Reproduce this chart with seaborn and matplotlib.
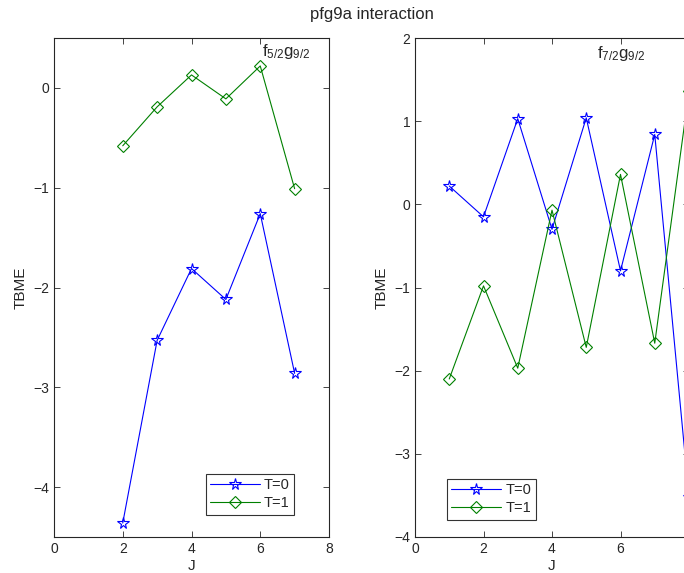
import numpy as np
import pandas as pd
import matplotlib
matplotlib.use("Agg")
import matplotlib.pyplot as plt
import seaborn as sns

sns.set_style("ticks")
plt.rcParams['font.family'] = ['Liberation Sans', 'DejaVu Sans']
plt.rcParams['mathtext.fontset'] = 'custom'
plt.rcParams['mathtext.rm'] = 'Liberation Sans'
plt.rcParams['mathtext.it'] = 'Liberation Sans'

# f5/2 g9/2
J_left = [2, 3, 4, 5, 6, 7]
T0_left = [-4.36, -2.53, -1.81, -2.12, -1.26, -2.86]
T1_left = [-0.58, -0.19, 0.13, -0.11, 0.22, -1.01]

# f7/2 g9/2
J_right = [1, 2, 3, 4, 5, 6, 7, 8]
T0_right = [0.22, -0.15, 1.03, -0.30, 1.04, -0.80, 0.84, -3.52]
T1_right = [-2.10, -0.98, -1.97, -0.07, -1.72, 0.36, -1.67, 1.36]

blue = (0, 0, 1)
green = (0, 0.5, 0)

fig = plt.figure(figsize=(6.84, 5.73), dpi=100)
ax1 = fig.add_axes([54/684, 36/573, 275/684, 499/573])
ax2 = fig.add_axes([415/684, 36/573, 274/684, 499/573])


def draw(ax, J, t0, t1):
    df = pd.DataFrame({'J': J, 'T0': t0, 'T1': t1})
    sns.lineplot(data=df, x='J', y='T0', ax=ax, color=blue, marker='*',
                 markersize=8.5, markerfacecolor='none', markeredgecolor=blue,
                 markeredgewidth=0.8, linewidth=0.8, label='T=0')
    sns.lineplot(data=df, x='J', y='T1', ax=ax, color=green, marker='D',
                 markersize=6, markerfacecolor='none', markeredgecolor=green,
                 markeredgewidth=0.8, linewidth=0.8, label='T=1')
    ax.set_xlim(0, 8)
    ax.set_xticks([0, 2, 4, 6, 8])
    ax.set_xlabel('J', fontsize=11, labelpad=2)
    ax.set_ylabel('TBME', fontsize=11)
    ax.tick_params(direction='in', top=True, right=True, labelsize=10,
                   length=4, width=0.6)
    for s in ax.spines.values():
        s.set_linewidth(0.8)
        s.set_visible(True)
    for ln in ax.get_lines():
        ln.set_clip_on(False)


draw(ax1, J_left, T0_left, T1_left)
ax1.set_ylim(-4.5, 0.5)
ax1.set_yticks([0, -1, -2, -3, -4])
ax1.text(6.05, 0.32, r'f$_{5/2}$g$_{9/2}$', fontsize=12)
leg1 = ax1.legend(loc='lower right', bbox_to_anchor=(0.9, 0.03),
                  fancybox=False, edgecolor='black', fontsize=10.5,
                  handlelength=3.4, borderpad=0.3, labelspacing=0.3,
                  handletextpad=0.3)
leg1.get_frame().set_linewidth(0.8)

draw(ax2, J_right, T0_right, T1_right)
ax2.set_ylim(-4, 2)
ax2.set_yticks([2, 1, 0, -1, -2, -3, -4])
# the 8 label sits past the figure edge, as in the cropped original
ax2.set_xticklabels(['0', '2', '4', '6', ''])
ax2.text(5.3, 1.76, r'f$_{7/2}$g$_{9/2}$', fontsize=12)
leg2 = ax2.legend(loc='lower left', bbox_to_anchor=(0.09, 0.02),
                  fancybox=False, edgecolor='black', fontsize=10.5,
                  handlelength=3.4, borderpad=0.3, labelspacing=0.3,
                  handletextpad=0.3)
leg2.get_frame().set_linewidth(0.8)

fig.text(372/684, 1 - 15/573, 'pfg9a interaction', ha='center', va='center',
         fontsize=12)

fig.savefig('out.png', dpi=100)
